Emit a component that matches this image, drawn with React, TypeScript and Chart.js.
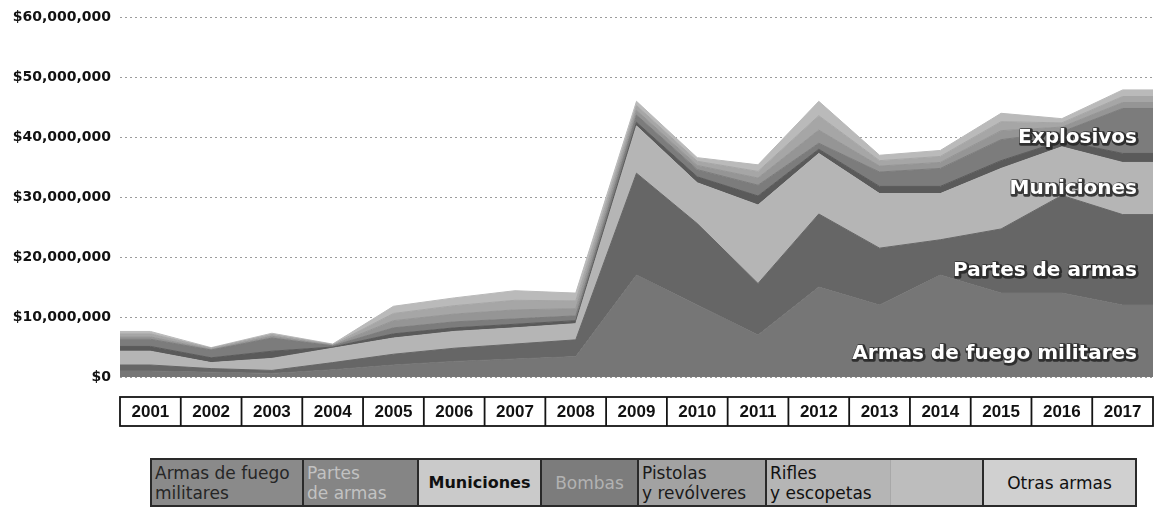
import React, { useEffect, useRef } from 'react';
import { Chart, registerables } from 'chart.js';

Chart.register(...registerables);

// Values in millions of US dollars
const years = [2001, 2002, 2003, 2004, 2005, 2006, 2007, 2008, 2009, 2010, 2011, 2012, 2013, 2014, 2015, 2016, 2017];
const armasFuegoMilitares = [1.0, 0.8, 0.6, 1.2, 2.0, 2.6, 3.0, 3.4, 17.0, 12.0, 7.0, 15.0, 12.0, 17.0, 14.0, 14.0, 12.0];
const partesArmas = [1.0, 0.6, 0.5, 1.2, 1.8, 2.2, 2.5, 2.8, 17.0, 13.6, 8.6, 12.2, 9.5, 5.9, 10.7, 16.3, 15.1];
const municiones = [2.3, 1.0, 2.0, 2.4, 2.7, 2.8, 2.7, 2.7, 7.9, 6.8, 13.1, 10.1, 9.1, 7.7, 10.1, 8.1, 8.7];
const bombas = [0.8, 0.8, 1.2, 0.2, 0.7, 0.6, 0.6, 0.5, 0.6, 1.0, 1.5, 0.7, 1.2, 1.2, 1.3, 1.0, 1.5];
const explosivos = [1.2, 1.3, 2.2, 0.2, 1.0, 1.0, 0.9, 0.8, 1.2, 1.2, 1.8, 1.0, 2.4, 3.0, 3.5, 1.5, 7.5];
const pistolasRevolveres = [0.4, 0.1, 0.3, 0.1, 1.2, 1.3, 1.5, 1.2, 0.8, 0.7, 1.2, 2.2, 1.0, 1.0, 1.5, 0.8, 1.0];
const riflesEscopetas = [0.5, 0.2, 0.3, 0.1, 1.2, 1.4, 1.6, 1.3, 0.8, 0.7, 1.1, 2.4, 0.9, 1.0, 1.5, 0.7, 1.0];
const otrasArmas = [0.4, 0.1, 0.2, 0.1, 1.2, 1.3, 1.6, 1.3, 0.7, 0.6, 1.1, 2.4, 0.9, 1.0, 1.4, 0.7, 1.1];

const yTicks = [0, 10, 20, 30, 40, 50, 60];

const seriesNames = [
  'Armas de fuego militares',
  'Partes de armas',
  'Municiones',
  'Bombas',
  'Explosivos',
  'Pistolas y revólveres',
  'Rifles y escopetas',
  'Otras armas',
];
const seriesValues = [
  armasFuegoMilitares,
  partesArmas,
  municiones,
  bombas,
  explosivos,
  pistolasRevolveres,
  riflesEscopetas,
  otrasArmas,
];
const seriesColors = ['#767676', '#666666', '#b5b5b5', '#5a5a5a', '#7c7c7c', '#959595', '#a6a6a6', '#bababa'];

// In-chart labels (text, vertical pixel position)
const areaLabels: [string, number][] = [
  ['Explosivos', 138],
  ['Municiones', 189],
  ['Partes de armas', 271],
  ['Armas de fuego militares', 354],
];

// Legend boxes below the chart
const legendBoxes = [
  { lines: ['Armas de fuego', 'militares'], width: 152, bg: '#8a8a8a', color: '#262626', bold: false, align: 'left' },
  { lines: ['Partes', 'de armas'], width: 115, bg: '#858585', color: '#c2c2c2', bold: false, align: 'left' },
  { lines: ['Municiones'], width: 123, bg: '#cacaca', color: '#111111', bold: true, align: 'center' },
  { lines: ['Bombas'], width: 97, bg: '#7c7c7c', color: '#b2b2b2', bold: false, align: 'center' },
  { lines: ['Pistolas', 'y revólveres'], width: 128, bg: '#a2a2a2', color: '#1a1a1a', bold: false, align: 'left' },
  { lines: ['Rifles', 'y escopetas'], width: 125, bg: '#b5b5b5', color: '#111111', bold: false, align: 'left' },
  { lines: [], width: 92, bg: '#bdbdbd', color: '#111111', bold: false, align: 'left' },
  { lines: ['Otras armas'], width: 155, bg: '#d0d0d0', color: '#111111', bold: false, align: 'center' },
];

const yearBoxPlugin = {
  id: 'yearBoxes',
  afterDraw(chart: any) {
    const { ctx } = chart;
    const x = chart.scales.x;
    const top = 397;
    const bottom = 426;
    const first = years[0];
    const last = years[years.length - 1];
    const left = x.getPixelForValue(first - 0.5);
    const right = x.getPixelForValue(last + 0.5);
    ctx.save();
    ctx.strokeStyle = '#141414';
    ctx.lineWidth = 1.8;
    ctx.strokeRect(left, top, right - left, bottom - top);
    ctx.font = 'bold 17px "Liberation Sans", Arial, sans-serif';
    ctx.fillStyle = '#111';
    ctx.textAlign = 'center';
    ctx.textBaseline = 'middle';
    years.forEach((yr, i) => {
      if (i > 0) {
        const lx = x.getPixelForValue(yr - 0.5);
        ctx.beginPath();
        ctx.moveTo(lx, top);
        ctx.lineTo(lx, bottom);
        ctx.stroke();
      }
      ctx.fillText(String(yr), x.getPixelForValue(yr), (top + bottom) / 2 + 1);
    });
    ctx.restore();
  },
};

const areaLabelPlugin = {
  id: 'areaLabels',
  afterDatasetsDraw(chart: any) {
    const { ctx, chartArea } = chart;
    ctx.save();
    ctx.font = 'bold 20px "DejaVu Sans", sans-serif';
    ctx.textAlign = 'right';
    ctx.textBaseline = 'middle';
    ctx.lineJoin = 'round';
    const xr = chartArea.right - 16;
    areaLabels.forEach(([text, y]) => {
      ctx.strokeStyle = 'rgba(35,35,35,0.85)';
      ctx.lineWidth = 3.5;
      ctx.strokeText(text, xr + 1, y + 1);
      ctx.fillStyle = '#ffffff';
      ctx.fillText(text, xr, y);
    });
    ctx.restore();
  },
};

export default function App() {
  const canvasRef = useRef<HTMLCanvasElement>(null);

  useEffect(() => {
    const canvas = canvasRef.current;
    if (!canvas) return;
    const first = years[0];
    const last = years[years.length - 1];
    const datasets = seriesValues.map((vals, i) => {
      const pts = years.map((yr, j) => ({ x: yr, y: vals[j] }));
      // extend the area flat to the outer edges of the first and last year boxes
      const data = [{ x: first - 0.5, y: vals[0] }, ...pts, { x: last + 0.5, y: vals[vals.length - 1] }];
      return {
        label: seriesNames[i],
        data,
        backgroundColor: seriesColors[i],
        borderColor: seriesColors[i],
        borderWidth: 1,
        pointRadius: 0,
        tension: 0,
        fill: i === 0 ? 'origin' : '-1',
      };
    });

    const chart = new Chart(canvas, {
      type: 'line',
      data: { datasets } as any,
      plugins: [yearBoxPlugin, areaLabelPlugin],
      options: {
        animation: false,
        responsive: false,
        events: [],
        layout: { padding: { top: 15, right: 5, bottom: 63, left: 0 } },
        plugins: { legend: { display: false }, tooltip: { enabled: false } },
        scales: {
          x: {
            type: 'linear',
            min: first - 0.5,
            max: last + 0.5,
            display: false,
          },
          y: {
            stacked: true,
            min: yTicks[0],
            max: yTicks[yTicks.length - 1],
            afterBuildTicks: (scale: any) => {
              scale.ticks = yTicks.map((v) => ({ value: v }));
            },
            afterFit: (scale: any) => {
              scale.width = 120;
            },
            grid: { color: '#9c9c9c', lineWidth: 1, drawTicks: false },
            border: { display: false, dash: [2, 3] },
            ticks: {
              padding: 9,
              color: '#111',
              font: { family: '"DejaVu Sans", sans-serif', size: 14, weight: 'bold' },
              callback: (v: any) => '$' + (Number(v) * 1e6).toLocaleString('en-US'),
            },
          },
        },
      } as any,
    });
    return () => chart.destroy();
  }, []);

  return (
    <div style={{ position: 'absolute', left: 0, top: 0, width: 1158, height: 510, background: '#fff', overflow: 'hidden' }}>
      <canvas ref={canvasRef} width={1158} height={440} style={{ position: 'absolute', left: 0, top: 0, display: 'block' }} />
      <div
        style={{
          position: 'absolute',
          left: 150,
          top: 458,
          height: 49,
          display: 'flex',
          border: '2px solid #2a2a2a',
          boxSizing: 'border-box',
          fontFamily: '"DejaVu Sans", sans-serif',
        }}
      >
        {legendBoxes.map((b, i) => (
          <div
            key={i}
            style={{
              width: b.width - (i === 0 ? 2 : 0) - (i === legendBoxes.length - 1 ? 2 : 0),
              background: b.bg,
              color: b.color,
              borderLeft: i === 0 ? 'none' : i === 6 ? '1px solid #a8a8a8' : '2px solid #2a2a2a',
              boxSizing: 'border-box',
              display: 'flex',
              flexDirection: 'column',
              justifyContent: 'center',
              alignItems: b.align === 'center' ? 'center' : 'flex-start',
              paddingLeft: b.align === 'center' ? 0 : 3,
              fontSize: b.bold ? 16 : 17,
              fontWeight: b.bold ? 'bold' : 'normal',
              lineHeight: '20px',
              whiteSpace: 'nowrap',
              overflow: 'hidden',
            }}
          >
            {b.lines.map((l, j) => (
              <div key={j}>{l}</div>
            ))}
          </div>
        ))}
      </div>
    </div>
  );
}
